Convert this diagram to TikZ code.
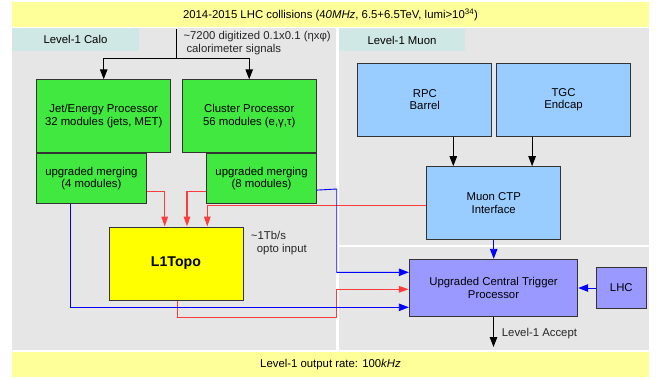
\documentclass[tikz,border=0pt]{standalone}
\usepackage{fontspec}
\setmainfont{Liberation Sans}
\usepackage{xcolor}
\usetikzlibrary{arrows.meta,positioning}
\definecolor{barYellow}{HTML}{FFFF99}
\definecolor{panelGray}{HTML}{E6E6E6}
\definecolor{tagTeal}{HTML}{D0E8E5}
\definecolor{caloGreen}{HTML}{40E840}
\definecolor{muonBlue}{HTML}{99CCFF}
\definecolor{ctpPurple}{HTML}{9999FF}
\definecolor{topoYellow}{HTML}{FFFF00}
\definecolor{wireRed}{HTML}{FF3C3C}
\tikzset{
  unit/.style={
    rectangle, draw=black!80, line width=1bp,
    minimum width=134bp, minimum height=73bp, inner sep=1bp,
    align=center, font=\fontsize{11.4}{12.6}\selectfont
  },
  calo/.style={unit, fill=caloGreen},
  merge/.style={calo, minimum width=109.3bp, minimum height=49.6bp},
  muon/.style={unit, fill=muonBlue},
  ctpbox/.style={unit, fill=ctpPurple},
  topo/.style={unit, fill=topoYellow, font=\fontsize{14.2}{16}\selectfont\bfseries},
  bar/.style={
    rectangle, fill=barYellow, minimum width=637bp, minimum height=25bp,
    inner sep=0pt, font=\fontsize{11.4}{12.6}\selectfont
  },
  tag/.style={
    rectangle, fill=tagTeal, minimum width=127bp, minimum height=22.5bp,
    inner sep=0pt, font=\fontsize{11.4}{12.6}\selectfont
  },
  arrow/.style={-{Triangle[length=10bp,width=7.5bp]}, line width=0.9bp, black},
  link/.style={line width=0.9bp, black},
  redarrow/.style={-{Triangle[length=10bp,width=6.5bp]}, line width=1.4bp, wireRed},
  bluearrow/.style={arrow, blue},
  annot/.style={font=\fontsize{11.4}{12.6}\selectfont, text=black!85, align=left, inner sep=0pt},
}

\begin{document}
\begin{tikzpicture}[x=1bp, y=-1bp]
  \useasboundingbox (0,0) rectangle (656,379);

  % Panels
  \fill[panelGray] (12,28) rectangle (336,350);
  \fill[panelGray] (339,28) rectangle (649,245);
  \fill[panelGray] (339,247) rectangle (649,350);

  % Nodes
  \node[bar] (title) at (330.5,14.5)
    {2014-2015 LHC collisions (4\textit{0MHz}, 6.5+6.5TeV, lumi>10\textsuperscript{34})};
  \node[bar] (rate) at (330.5,364.5) {Level-1 output rate: 100\textit{kHz}};
  \node[tag] (calotag) at (75.5,39.3) {Level-1 Calo};
  \node[tag, minimum width=126bp] (muontag) at (402,40) {Level-1 Muon};

  \node[calo] (jep) at (103.7,116.3) {Jet/Energy Processor\\32 modules (jets, MET)};
  \node[merge, anchor=north west] (jepm) at (jep.south west) {upgraded merging\\(4 modules)};
  \node[calo] (cp) at (249.2,116.3) {Cluster Processor\\56 modules (e,γ,τ)};
  \node[merge, anchor=north east] (cpm) at (cp.south east) {upgraded merging\\(8 modules)};
  \node[topo] (l1topo) at (176,263.5) {L1Topo};

  \node[muon] (rpc) at (424.8,99.7) {RPC\\Barrel};
  \node[muon, right=3.7bp of rpc] (tgc) {TGC\\Endcap};
  \node[muon, minimum height=73.3bp] (mctp) at (493.7,203.3) {Muon CTP\\Interface};
  \node[ctpbox, minimum width=168.4bp, minimum height=57.4bp] (ctp) at (493.5,288)
    {Upgraded Central Trigger\\Processor};
  \node[ctpbox, minimum width=50bp, minimum height=40.6bp, right=17.6bp of ctp] (lhc) {LHC};

  \coordinate (feed) at (176.5,28.5);
  \coordinate (split) at (176.5,58.3);
  \coordinate (bluebus) at (336.7,189);
  \coordinate (redbus) at (336.7,317.3);
  \coordinate (accept) at (493.5,347);

  % Arrows
  \draw[link] (feed) -- (split);
  \draw[arrow] (split) -| (jep.north);
  \draw[arrow] (split) -| (cp.north);
  \draw[arrow] ([xshift=28.5bp]rpc.south) -- ([xshift=28.5bp]rpc.south |- mctp.north);
  \draw[arrow] ([xshift=-31.4bp]tgc.south) -- ([xshift=-31.4bp]tgc.south |- mctp.north);

  \draw[redarrow] ([yshift=12.3bp]jepm.south east) -| ([xshift=-11.3bp]l1topo.north);
  \draw[redarrow] ([yshift=12.3bp]cpm.south west) -| ([xshift=11bp]l1topo.north);
  \draw[redarrow] ([yshift=-2.4bp]mctp.west) -| ([xshift=31.3bp]l1topo.north);
  \draw[redarrow] ([xshift=1.7bp]l1topo.south) |- (redbus) |- ([yshift=-1.3bp]ctp.west);

  \draw[bluearrow] ([xshift=-21bp]jepm.south) |- ([yshift=-19.3bp]ctp.west);
  \draw[bluearrow] ([yshift=-11.5bp]cpm.east) -- (bluebus) |- ([yshift=15.7bp]ctp.west);
  \draw[bluearrow] (mctp.south) -- (mctp.south |- ctp.north);
  \draw[bluearrow] (lhc.west) -- (ctp.east);
  \draw[arrow] (ctp.south) -- (accept);

  % Annotations
  \node[annot, anchor=west] (signals) at (183.3,43.3)
    {\textasciitilde 7200 digitized 0.1x0.1 (ηxφ)\\\hspace*{3bp}calorimeter signals};
  \node[annot, anchor=west] (optical) at (250.7,243.3)
    {\textasciitilde 1Tb/s\\\hspace*{6bp}opto input};
  \node[annot, anchor=west] (l1a) at (501.7,333.3) {Level-1 Accept};
\end{tikzpicture}
\end{document}
